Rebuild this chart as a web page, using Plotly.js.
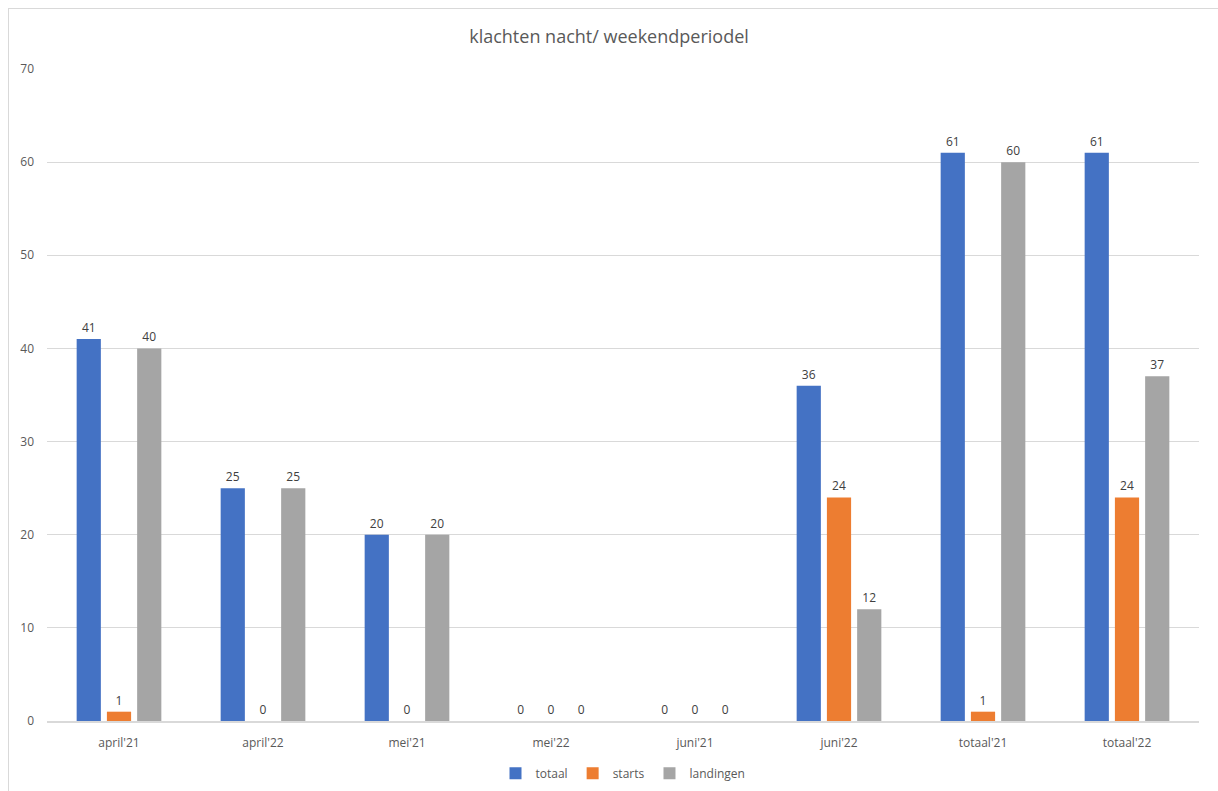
<!DOCTYPE html>
<html>
<head>
<meta charset="utf-8">
<script src="https://cdn.plot.ly/plotly-3.0.1.min.js"></script>
<style>
html,body{margin:0;padding:0;background:#fff;}
#frame{position:absolute;left:8px;top:8px;width:1300px;height:900px;border-left:1.5px solid #d9d9d9;border-top:1.5px solid #d9d9d9;pointer-events:none;z-index:5;}
#chart{position:absolute;left:0;top:0;width:1218px;height:791px;}
</style>
</head>
<body>
<div id="chart"></div>
<div id="frame"></div>
<script>
const categories = ["april'21","april'22","mei'21","mei'22","juni'21","juni'22","totaal'21","totaal'22"];
const totaal    = [41, 25, 20, 0, 0, 36, 61, 61];
const starts    = [1, 0, 0, 0, 0, 24, 1, 24];
const landingen = [40, 25, 20, 0, 0, 12, 60, 37];
const seriesNames = ["totaal","starts","landingen"];
const colors = ["#4472C4","#ED7D31","#A5A5A5"];

const font = "'Open Sans', 'Liberation Sans', sans-serif";
const traces = [totaal, starts, landingen].map((vals, i) => ({
  type: 'bar',
  name: seriesNames[i],
  x: categories,
  y: vals,
  marker: {color: colors[i]},
  text: vals.map(String),
  textposition: 'outside',
  cliponaxis: false,
  textfont: {family: font, size: 12, color: '#404040'},
  hoverinfo: 'x+y+name'
}));

const layout = {
  width: 1218, height: 791,
  margin: {l: 47, r: 19, t: 69, b: 70, autoexpand: false},
  paper_bgcolor: '#fff', plot_bgcolor: '#fff',
  font: {family: font, size: 12, color: '#595959'},
  title: {text: 'klachten nacht/ weekendperiodel', x: 0.5, xanchor: 'center', y: 0.953, yanchor: 'middle',
          font: {family: font, size: 18, color: '#595959'}},
  barmode: 'group',
  bargap: 0.37,
  bargroupgap: 0.2,
  xaxis: {
    type: 'category', showgrid: false, showline: true, linecolor: '#d9d9d9', linewidth: 1.5,
    ticks: '', ticklabelstandoff: 10, tickfont: {size: 12, color: '#595959'}, fixedrange: true
  },
  yaxis: {
    range: [0, 70], dtick: 10, showgrid: true, gridcolor: '#d9d9d9', gridwidth: 1.2,
    zeroline: false, showline: false, ticks: '', ticklabelstandoff: 12,
    tickfont: {size: 12, color: '#595959'}, fixedrange: true
  },
  showlegend: true,
  legend: {orientation: 'h', x: 0.5, xanchor: 'center', y: -0.08, yanchor: 'middle',
           font: {size: 12, color: '#595959'}, itemwidth: 30, traceorder: 'normal'}
};

Plotly.newPlot('chart', traces, layout, {displayModeBar: false, staticPlot: true});
</script>
</body>
</html>
